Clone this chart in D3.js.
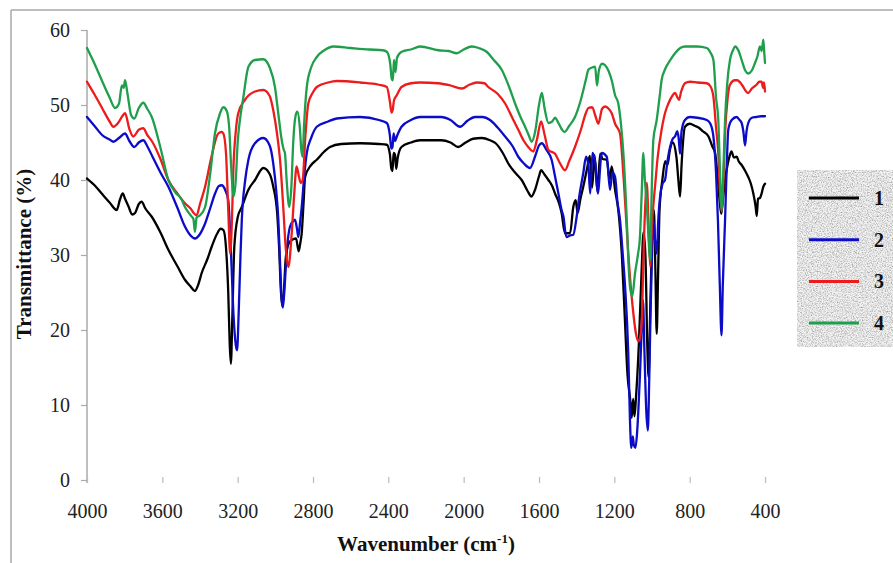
<!DOCTYPE html>
<html>
<head>
<meta charset="utf-8">
<script src="https://cdn.jsdelivr.net/npm/d3@7"></script>
<style>
  html, body { margin: 0; padding: 0; background: #fff; }
  svg { display: block; }
  text { font-family: "Liberation Serif", "Times New Roman", serif; }
</style>
</head>
<body>
<svg id="chart" width="893" height="563"></svg>
<script>
// ---- Data (wavenumber cm-1, transmittance %) ----
const xTicks = [4000, 3600, 3200, 2800, 2400, 2000, 1600, 1200, 800, 400];
const yTicks = [0, 10, 20, 30, 40, 50, 60];
const seriesNames = ["1", "2", "3", "4"];
const seriesColors = ["#000000", "#0c0cc8", "#ec1c1c", "#1f9e4c"];

const series1 = [[4000,40.2],[3960,39.3],[3922,38.2],[3880,37],[3842,36],[3825,37.4],[3810,38.2],[3798,37.5],[3780,36.5],[3760,35.4],[3745,35.6],[3725,36.8],[3710,37.1],[3690,36.2],[3656,35.1],[3610,33],[3568,30.7],[3520,28.5],[3480,26.7],[3450,25.8],[3427,25.2],[3410,26],[3391,27.6],[3360,29.5],[3338,31.1],[3310,32.8],[3290,33.5],[3275,33.3],[3262,31],[3250,25],[3242,18],[3236,15.5],[3228,22],[3218,31],[3200,35],[3178,36.4],[3143,38.7],[3108,40],[3064,41.6],[3030,40.8],[3011,39.1],[2990,35.5],[2980,31],[2970,25],[2963,23.2],[2955,25],[2945,29.5],[2930,31.5],[2913,32],[2890,32.2],[2876,30.5],[2868,31.5],[2860,32.9],[2850,37],[2842,40.4],[2810,42],[2780,42.7],[2740,43.8],[2710,44.4],[2650,44.8],[2550,44.9],[2450,44.8],[2408,44.7],[2392,43.5],[2384,41.5],[2378,41.2],[2372,43.6],[2365,43.4],[2358,41.5],[2350,43],[2330,44.4],[2280,45],[2232,45.3],[2119,45.3],[2070,45],[2028,44.4],[1990,45],[1950,45.5],[1904,45.6],[1860,45.3],[1830,44.9],[1790,43.5],[1763,42.2],[1720,40.8],[1692,40],[1660,38.5],[1640,37.8],[1621,38.7],[1600,40.5],[1589,41.3],[1570,40.7],[1550,40],[1530,39.2],[1515,38.2],[1495,37],[1480,35.6],[1462,32.9],[1435,32.9],[1418,36.4],[1405,37.3],[1395,35.6],[1380,37.5],[1365,39.1],[1345,41.5],[1330,43.2],[1318,39],[1305,43.3],[1290,38.5],[1275,43.5],[1262,42.8],[1240,42.7],[1225,40],[1214,41.8],[1195,38.5],[1179,36],[1160,30],[1145,22],[1130,14],[1115,10.5],[1108,8.3],[1100,10.8],[1093,8.5],[1085,11],[1070,18],[1055,28],[1045,33],[1035,30],[1025,18],[1018,13.7],[1010,22],[1000,32],[990,36],[982,28],[975,19.5],[968,27],[960,36],[945,40],[930,42.5],[918,42],[905,44],[890,45],[870,43],[860,40],[851,37.8],[843,42],[825,47.1],[800,47.5],[770,47.2],[753,47],[730,46.5],[700,45.8],[680,44.5],[665,43.6],[650,40],[640,37],[632,35.5],[625,37],[612,40],[604,41.3],[590,43],[578,43.8],[565,43],[550,43.1],[540,42.5],[524,42],[505,41.2],[489,40.4],[475,39.5],[462,38.2],[450,36.5],[444,35.2],[437,37.5],[427,37.6],[418,38.2],[409,39.1],[400,39.5]];

const series2 = [[4000,48.4],[3960,47.2],[3920,46],[3880,45.4],[3860,45.1],[3830,45.6],[3798,46.2],[3775,45.2],[3749,44.4],[3725,45],[3701,45.3],[3680,44.5],[3650,43],[3610,41],[3568,39.1],[3520,36.3],[3480,33.8],[3450,32.6],[3427,32.2],[3400,32.8],[3373,34.2],[3345,36.3],[3320,38.2],[3300,39.2],[3285,39.3],[3265,38.6],[3250,37.3],[3235,30],[3222,22],[3210,18],[3203,17.3],[3195,22],[3185,30],[3178,34.7],[3160,40],[3143,42.7],[3108,44.9],[3064,45.6],[3030,44.6],[3011,42.2],[2995,38.5],[2984,34.7],[2975,29],[2966,24],[2960,23],[2950,26],[2940,30.2],[2922,33.8],[2905,34.5],[2896,34.7],[2885,33.5],[2878,32.4],[2868,34.5],[2860,36.4],[2845,41],[2833,43.6],[2810,45.6],[2780,47.1],[2720,47.8],[2674,48.2],[2550,48.4],[2450,48],[2408,47.6],[2392,46],[2384,44.2],[2378,44.4],[2372,46.2],[2364,45.2],[2355,45.8],[2330,47.1],[2280,48],[2232,48.4],[2119,48.4],[2070,48],[2019,47.1],[1980,47.9],[1940,48.4],[1900,48.4],[1860,48],[1820,47],[1780,45.8],[1740,44.5],[1710,43.1],[1680,42.2],[1648,41.6],[1620,43.2],[1600,44.6],[1585,44.9],[1560,44],[1533,42.7],[1515,40.5],[1497,38.2],[1480,36],[1470,35.1],[1455,32.4],[1435,32.6],[1418,32.7],[1400,35.1],[1385,38],[1365,40.9],[1350,43.1],[1338,42],[1328,38.2],[1316,43.6],[1300,42],[1288,38.2],[1267,43.6],[1240,43.1],[1223,38.7],[1210,41],[1196,40.4],[1183,37],[1170,34.7],[1155,30],[1143,25.8],[1126,16.9],[1117,8],[1110,4.3],[1102,5.8],[1096,4.6],[1088,4.3],[1080,6],[1072,9.5],[1064,14],[1055,20],[1048,24],[1040,17],[1030,9],[1022,6.6],[1015,13],[1008,22],[1000,30],[993,34.7],[984,32],[975,30.2],[966,35],[957,37.8],[944,39.5],[931,40],[918,42.5],[904,44.4],[890,45.5],[878,45.8],[866,46.5],[858,45.5],[851,43.5],[843,46.5],[825,48],[800,48.4],[760,48.3],[709,48],[690,47.5],[674,45.8],[660,41],[650,34.7],[640,26],[631,19.3],[624,26],[612,34.7],[603,42],[595,46.7],[577,48],[550,48.4],[535,48],[524,47.6],[515,46.5],[506,44.6],[498,46.5],[489,47.6],[470,48.3],[445,48.4],[420,48.5],[400,48.5]];

const series3 = [[4000,53.1],[3960,51.4],[3920,49.6],[3880,47.8],[3860,47.1],[3835,47.6],[3810,48.6],[3798,48.9],[3775,46.8],[3754,45.8],[3725,46.7],[3701,46.9],[3680,46],[3656,45.2],[3610,42.8],[3568,40],[3520,38.2],[3480,36.9],[3450,36.2],[3430,35.5],[3418,35.3],[3400,36.8],[3373,39.1],[3340,43],[3303,46.2],[3285,46.4],[3276,46.2],[3262,43.6],[3250,36],[3240,30.2],[3230,35],[3223,41.3],[3210,46.5],[3197,48.9],[3161,50.7],[3108,51.8],[3064,52],[3030,51.2],[3011,49.3],[2990,46],[2975,42.7],[2957,36],[2945,31],[2931,28.4],[2913,32.9],[2900,38],[2887,41.8],[2875,40.5],[2865,39.6],[2855,40],[2840,46],[2825,50.2],[2800,51.7],[2780,52.4],[2720,53],[2674,53.2],[2550,53],[2450,52.7],[2408,52.4],[2392,50.5],[2383,49],[2377,49.3],[2370,50.6],[2355,51.3],[2330,52.4],[2280,52.9],[2232,53],[2135,52.9],[2070,52.6],[2010,52.2],[1970,52.7],[1931,53],[1890,52.9],[1869,52.4],[1820,51.5],[1780,50.2],[1740,48.2],[1710,46.7],[1680,45.2],[1657,44.4],[1630,43.8],[1610,45.5],[1589,47.8],[1570,46],[1550,44],[1515,43.5],[1490,42.3],[1462,41.3],[1440,42.5],[1409,44.4],[1380,46.5],[1350,49],[1338,49.6],[1318,49.7],[1300,48.5],[1285,47.5],[1265,49.5],[1249,49.8],[1230,49.5],[1214,48.9],[1196,47.5],[1170,46.2],[1150,40],[1126,30.2],[1110,25],[1099,22.2],[1085,19.5],[1072,18.5],[1060,19.5],[1054,21.3],[1045,30],[1035,37],[1028,39.6],[1018,34],[1010,28.5],[1000,34],[990,37.5],[984,39.1],[970,43],[949,46.7],[930,49],[913,50.2],[890,51.3],[878,51.6],[865,51],[857,50.7],[845,51.8],[825,52.9],[798,53.1],[760,53],[709,52.9],[690,52.5],[674,51.1],[660,47],[648,43.6],[638,38],[630,35.8],[622,39],[612,46.2],[598,51],[586,52.7],[560,53.3],[548,53.3],[520,52.6],[500,51.8],[489,51.6],[470,52.2],[445,52.7],[430,53.1],[418,53.1],[410,52.3],[405,53],[400,51.8]];

const series4 = [[4000,57.6],[3960,55.5],[3920,53.2],[3880,51],[3851,49.6],[3830,50.2],[3815,52.6],[3805,52.3],[3798,53.3],[3785,51.5],[3765,48.6],[3749,48.2],[3725,49.6],[3701,50.3],[3680,49.5],[3656,48.4],[3610,44.3],[3568,40],[3530,38.3],[3500,37.5],[3480,36.4],[3450,35.3],[3435,34.8],[3427,33.1],[3418,35],[3400,35.3],[3373,36.4],[3345,41],[3320,46.3],[3295,48.8],[3276,49.7],[3258,49.2],[3245,47],[3235,42],[3222,37.8],[3210,40],[3200,45],[3188,48],[3170,51],[3143,55.1],[3108,56],[3064,56.1],[3030,55],[3002,52.4],[2985,49],[2966,45.3],[2955,44],[2949,43.6],[2940,40],[2926,36.4],[2915,39],[2905,45],[2893,48.5],[2883,49.1],[2870,47],[2862,44],[2855,43.1],[2848,47],[2833,52.4],[2810,55],[2780,56.4],[2740,57.3],[2692,57.8],[2600,57.6],[2500,57.4],[2430,57.3],[2408,57.1],[2390,55.5],[2382,53.5],[2376,53.3],[2370,56],[2362,54.4],[2354,56.3],[2329,57.1],[2280,57.4],[2232,57.8],[2135,57.3],[2080,57.2],[2037,56.9],[2000,57.4],[1957,57.8],[1920,57.6],[1878,57.1],[1840,56],[1798,54.7],[1760,52.5],[1727,50.2],[1700,48.5],[1674,47.1],[1655,46],[1639,45.1],[1620,46.5],[1600,50],[1585,51.6],[1570,49.5],[1550,47.6],[1530,47.8],[1515,48.3],[1497,47.6],[1480,46.8],[1465,46.4],[1440,47.2],[1409,48.4],[1380,50.5],[1350,53.5],[1338,54.7],[1318,55],[1302,55.1],[1292,52.6],[1282,54.6],[1265,55.5],[1249,55.3],[1230,54.5],[1214,53.3],[1196,51.3],[1179,50.2],[1165,47.5],[1152,43.6],[1134,34.7],[1125,29],[1117,25.8],[1105,24.5],[1090,27.6],[1075,30],[1064,32.4],[1055,38],[1046,43.6],[1038,40],[1028,36.9],[1018,32],[1010,29.3],[1003,37],[993,45.3],[975,48],[960,51],[949,53.3],[930,54.8],[913,55.6],[895,56.3],[878,56.9],[850,57.6],[825,57.8],[798,57.8],[760,57.8],[709,57.6],[690,57],[674,56],[660,51],[648,48],[640,42],[630,36],[620,42],[612,48],[600,53],[586,56],[570,57.3],[559,57.8],[540,57.2],[524,56],[505,54.6],[489,54.2],[470,54.6],[453,55.6],[440,56.5],[427,57.8],[418,57.2],[409,58.7],[404,57],[400,55.6]];

const allSeries = [series1, series2, series3, series4];
const SERIF = "'Liberation Serif', 'Times New Roman', serif";

// ---- Layout ----
const svg = d3.select("#chart");
const x = d3.scaleLinear().domain([4000, 400]).range([87, 765]);
const y = d3.scaleLinear().domain([0, 60]).range([480, 30]);

// outer frame (top and left grey lines)
svg.append("line").attr("x1", 11).attr("y1", 10).attr("x2", 893).attr("y2", 10)
  .attr("stroke", "#a8a8a8").attr("stroke-width", 1.5);
svg.append("line").attr("x1", 11).attr("y1", 10).attr("x2", 11).attr("y2", 563)
  .attr("stroke", "#a8a8a8").attr("stroke-width", 1.5);

// y axis
const yAxis = svg.append("g").attr("transform", "translate(87,0)")
  .call(d3.axisLeft(y).tickValues(yTicks).tickFormat(d3.format("d")).tickSize(6).tickSizeOuter(0));
yAxis.attr("font-family", SERIF);
yAxis.select(".domain").attr("stroke", "#aaaaaa").attr("stroke-width", 1.5)
  .attr("d", "M0," + (y(60)) + "V" + (y(0) + 3));
yAxis.selectAll(".tick line").attr("stroke", "#aaaaaa").attr("stroke-width", 1.2);
yAxis.selectAll(".tick text").attr("x", -17).attr("dy", "0.34em")
  .attr("font-size", 20).attr("fill", "#222").attr("font-family", SERIF);

// x axis (ticks only, no line)
const xAxis = svg.append("g").attr("transform", "translate(0,477)")
  .call(d3.axisBottom(x).tickValues(xTicks).tickFormat(d3.format("d")).tickSize(6).tickSizeOuter(0));
xAxis.attr("font-family", SERIF);
xAxis.select(".domain").remove();
xAxis.selectAll(".tick line").attr("stroke", "#bbbbbb").attr("stroke-width", 1.2);
xAxis.selectAll(".tick text").attr("y", 41).attr("dy", "0")
  .attr("font-size", 20).attr("fill", "#222").attr("font-family", SERIF);

// lines
const line = d3.line()
  .x(d => x(d[0]))
  .y(d => y(d[1]))
  .curve(d3.curveMonotoneX);

svg.append("g").selectAll("path")
  .data(allSeries)
  .join("path")
  .attr("d", line)
  .attr("fill", "none")
  .attr("stroke", (d, i) => seriesColors[i])
  .attr("stroke-width", 2.3)
  .attr("stroke-linejoin", "round")
  .attr("stroke-linecap", "round");

// axis titles
const xt = svg.append("text")
  .attr("x", 426).attr("y", 551)
  .attr("text-anchor", "middle")
  .attr("font-size", 21).attr("font-weight", "bold").attr("fill", "#111")
  .attr("font-family", SERIF);
xt.append("tspan").text("Wavenumber (cm");
xt.append("tspan").attr("font-size", 13).attr("dy", -8).text("-1");
xt.append("tspan").attr("dy", 8).text(")");

svg.append("text")
  .attr("transform", "translate(31,254) rotate(-90)")
  .attr("text-anchor", "middle")
  .attr("font-size", 21).attr("font-weight", "bold").attr("fill", "#111")
  .attr("font-family", SERIF)
  .text("Transmittance (%)");

// legend with noisy grey background
const defs = svg.append("defs");
const f = defs.append("filter").attr("id", "noise")
  .attr("x", 0).attr("y", 0).attr("width", 1).attr("height", 1)
  .attr("color-interpolation-filters", "sRGB");
f.append("feTurbulence").attr("type", "fractalNoise").attr("baseFrequency", 0.8)
  .attr("numOctaves", 3).attr("seed", 7).attr("result", "t");
f.append("feColorMatrix").attr("in", "t").attr("type", "matrix")
  .attr("values", "0.7 0 0 0 0.58  0.7 0 0 0 0.58  0.7 0 0 0 0.58  0 0 0 0 1").attr("result", "n");
f.append("feBlend").attr("in", "SourceGraphic").attr("in2", "n").attr("mode", "multiply").attr("result", "b");
f.append("feComposite").attr("in", "b").attr("in2", "SourceGraphic").attr("operator", "in");

svg.append("rect").attr("x", 797).attr("y", 170).attr("width", 96).attr("height", 177)
  .attr("fill", "#f2f2f2").attr("filter", "url(#noise)");

const legend = svg.append("g").selectAll("g")
  .data(seriesNames)
  .join("g")
  .attr("transform", (d, i) => `translate(0,${198 + i * 41.7})`);
legend.append("line").attr("x1", 809).attr("x2", 859).attr("y1", 0).attr("y2", 0)
  .attr("stroke", (d, i) => seriesColors[i]).attr("stroke-width", 3);
legend.append("text").attr("x", 874).attr("y", 0).attr("dy", "0.35em")
  .attr("font-size", 20).attr("font-weight", "bold").attr("fill", "#111")
  .attr("font-family", SERIF)
  .text(d => d);
</script>
</body>
</html>
